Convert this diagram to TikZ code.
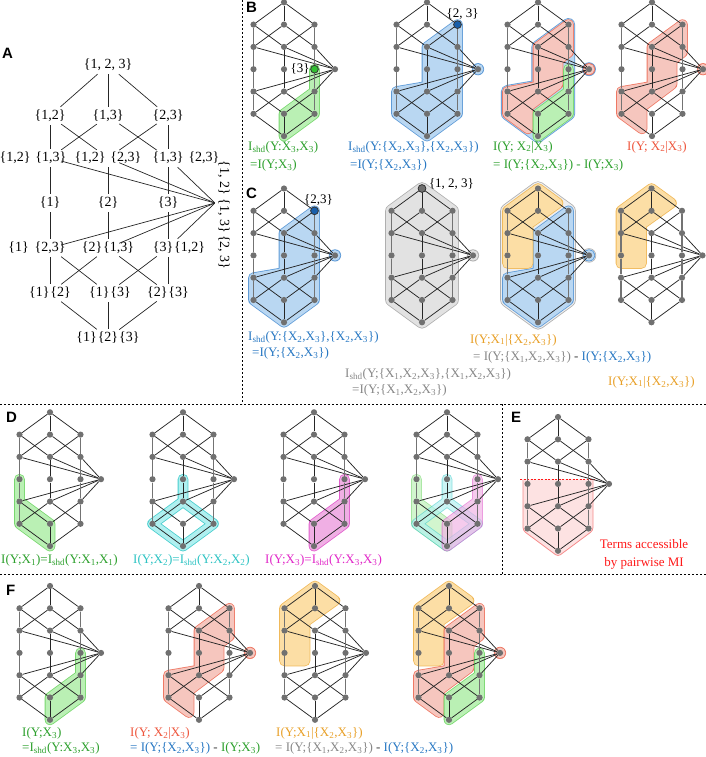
\documentclass[tikz,border=0pt]{standalone}
\usepackage{fontspec}
\setmainfont{Liberation Serif}
\newfontfamily\panelfont{Liberation Sans}
\usetikzlibrary{positioning}

% colours
\definecolor{dotgray}{RGB}{112,112,112}
\definecolor{gfill}{RGB}{186,240,180}
\definecolor{gline}{RGB}{120,215,110}
\definecolor{gtext}{RGB}{45,160,45}
\definecolor{gdot}{RGB}{50,190,50}
\definecolor{bfill}{RGB}{185,215,242}
\definecolor{bline}{RGB}{95,155,215}
\definecolor{btext}{RGB}{40,120,195}
\definecolor{bdot}{RGB}{25,95,170}
\definecolor{rfill}{RGB}{246,198,190}
\definecolor{rline}{RGB}{238,120,100}
\definecolor{rtext}{RGB}{238,85,60}
\definecolor{ofill}{RGB}{252,222,165}
\definecolor{oline}{RGB}{240,185,90}
\definecolor{otext}{RGB}{232,160,40}
\definecolor{kfill}{RGB}{226,226,226}
\definecolor{kline}{RGB}{175,175,175}
\definecolor{ktext}{RGB}{135,135,135}
\definecolor{cfill}{RGB}{175,240,240}
\definecolor{cline}{RGB}{70,205,205}
\definecolor{ctext}{RGB}{45,195,195}
\definecolor{mfill}{RGB}{240,175,228}
\definecolor{mline}{RGB}{225,95,205}
\definecolor{mtext}{RGB}{225,40,200}
\definecolor{efill}{RGB}{253,226,226}
\definecolor{eline}{RGB}{245,140,140}
\definecolor{etext}{RGB}{255,25,25}

\tikzset{
  latdot/.style={circle, fill=dotgray, inner sep=0pt, minimum size=6.2pt},
  hdot/.style={circle, draw=black!80, line width=0.8pt, inner sep=0pt, minimum size=7.8pt},
  latedge/.style={draw=black!85, line width=0.75pt},
  latvert/.style={draw=black!55, line width=1.4pt},
  aline/.style={draw=black!85, line width=0.7pt},
  anode/.style={inner sep=0pt, minimum width=22pt, minimum height=18pt},
  alab/.style={inner sep=0pt, font=\fontsize{14}{16}\selectfont},
  lbl/.style={anchor=west, inner sep=0pt, font=\fontsize{13}{15}\selectfont},
  hlab/.style={inner sep=0.5pt, font=\fontsize{13}{15}\selectfont},
  panel/.style={anchor=west, inner sep=0pt, font=\panelfont\bfseries\fontsize{15}{17}\selectfont},
  divider/.style={draw=black, line width=1pt, dash pattern=on 2pt off 2pt}
}

% text helpers
\newcommand{\X}[1]{X\textsubscript{#1}}
\newcommand{\Ish}{I\textsubscript{shd}}
\newcommand{\mn}{\textcolor{black!75}{-}}

% regions, local coordinates of one lattice (top node at origin)
\def\rgnOne{(-30.5,66.9) -- (-30.5,111.5) -- (0,133.8) -- (0,111.5) -- (-30.5,89.2) -- cycle}
\def\rgnThree{(30.5,66.9) -- (30.5,111.5) -- (0,133.8) -- (0,111.5) -- (30.5,89.2) -- cycle}
\def\rgnTwo{(0,66.9) -- (0,89.2) -- (-30.5,111.5) -- (0,133.8) -- (30.5,111.5) -- (0,89.2)}
\def\rgnBlue{(30.5,22.3) -- (30.5,111.5) -- (0,133.8) -- (-30.5,111.5) -- (-30.5,89.2) -- (0,84) -- (0,44.6) -- cycle}
\def\rgnRed{(30.5,22.3) -- (30.5,50) -- (20,58) -- (20,82) -- (-10,104.6) -- (-10,126.5) -- (-30.5,111.5) -- (-30.5,89.2) -- (0,84) -- (0,44.6) -- cycle}
\def\rgnOrange{(0,0) -- (20,14.6) -- (-10,36) -- (-10,75) -- (-30.5,75) -- (-30.5,22.3) -- cycle}
\def\rgnAll{(0,0) -- (30.5,22.3) -- (30.5,111.5) -- (0,133.8) -- (-30.5,111.5) -- (-30.5,22.3) -- cycle}

\newcommand{\blob}[4][9]{%
  \path[fill=#2, draw=#3, line width=#1pt+1.6pt, line join=round, line cap=round] #4;
  \path[fill=#2, draw=#2, line width=#1pt, line join=round, line cap=round] #4;}
\newcommand{\ring}[3]{%
  \path[draw=#2, line width=10.6pt, line join=round, line cap=round] #3;
  \path[draw=#1, line width=9pt, line join=round, line cap=round] #3;}
\newcommand{\pblob}[2]{%
  \fill[#2] (51,66.9) circle (6.1pt);
  \fill[#1] (51,66.9) circle (5.3pt);}

% one small lattice: prefix, x and y of its top node
\newcommand{\lattice}[3]{%
  \begin{scope}[shift={(#2,#3)}]
    \node[latdot] (#1t) at (0,0) {};
    \foreach \cl/\xx in {l/-30.5,m/0,r/30.5}{
      \foreach \k in {1,...,5}{
        \node[latdot] (#1\cl\k) at (\xx,{22.3*\k}) {};
      }
    }
    \node[latdot] (#1p) at (51,66.9) {};
    \node[latdot] (#1b) at (0,133.8) {};
  \end{scope}
  \foreach \u/\v in {t/l1,t/m1,t/r1,l1/m2,m1/l2,m1/r2,r1/m2,l2/p,m2/p,r2/p,m2/m3,m3/m4,p/l4,p/m4,p/r4,l4/m5,m4/l5,m4/r5,r4/m5,l5/b,m5/b,r5/b}
    \draw[latedge] (#1\u) -- (#1\v);
  \foreach \u/\v in {l1/l2,l2/l3,l3/l4,l4/l5,r1/r2,r2/r3,r3/r4,r4/r5}
    \draw[latvert] (#1\u) -- (#1\v);
}

\begin{document}
\begin{tikzpicture}[x=1pt, y=-1pt]
\useasboundingbox (0,0) rectangle (706,757);

% Dividers
\draw[divider] (242,0) -- (242,404);
\draw[divider] (0,404) -- (706,404);
\draw[divider] (0,574) -- (706,574);
\draw[divider] (502,404) -- (502,574);

% Panel letters
\node[panel] (pA) at (2,53) {A};
\node[panel] (pB) at (246,7) {B};
\node[panel] (pC) at (246,193) {C};
\node[panel] (pD) at (6,417) {D};
\node[panel] (pE) at (511,417) {E};
\node[panel] (pF) at (6,590) {F};

% ---------- A: the full lattice
\node[anode, label={[alab]center:{\{1, 2, 3\}}}] (a-t) at (108,65) {};
\node[anode, label={[alab]center:{\{1,2\}}}] (a-l1) at (50,116) {};
\node[anode, label={[alab]center:{\{1,3\}}}] (a-m1) at (108,116) {};
\node[anode, label={[alab]center:{\{2,3\}}}] (a-r1) at (168,116) {};
\node[anode, label={[alab,xshift=-17pt]center:{\{1,2\}\hspace{5pt}\{1,3\}}}] (a-l2) at (50,158) {};
\node[anode, label={[alab]center:{\{1,2\}\hspace{5pt}\{2,3\}}}] (a-m2) at (108,158) {};
\node[anode, label={[alab,xshift=18pt]center:{\{1,3\}\hspace{5pt}\{2,3\}}}] (a-r2) at (168,158) {};
\node[anode, label={[alab]center:{\{1\}}}] (a-l3) at (50,203) {};
\node[anode, label={[alab]center:{\{2\}}}] (a-m3) at (108,203) {};
\node[anode, label={[alab]center:{\{3\}}}] (a-r3) at (168,203) {};
\node[inner sep=0pt, minimum size=0pt] (a-p) at (215,203) {};
\node[alab, rotate=-90] (a-pl) at (224,215) {\{1, 2\}\hspace{4pt}\{1, 3\}\hspace{2pt}\{2, 3\}};
\node[anode, label={[alab,xshift=-13pt]center:{\{1\}\hspace{6pt}\{2,3\}}}] (a-l4) at (50,248) {};
\node[anode, label={[alab]center:{\{2\}\kern1pt\{1,3\}}}] (a-m4) at (108,248) {};
\node[anode, label={[alab,xshift=11pt]center:{\{3\}\kern1pt\{1,2\}}}] (a-r4) at (168,248) {};
\node[anode, label={[alab]center:{\{1\}\kern1pt\{2\}}}] (a-l5) at (50,293) {};
\node[anode, label={[alab,xshift=2pt]center:{\{1\}\kern1pt\{3\}}}] (a-m5) at (108,293) {};
\node[anode, label={[alab]center:{\{2\}\kern1pt\{3\}}}] (a-r5) at (168,293) {};
\node[anode, label={[alab]center:{\{1\}\kern1pt\{2\}\kern1pt\{3\}}}] (a-b) at (108,338) {};

\foreach \u/\v in {t/l1,t/m1,t/r1,l1/l2,l1/m2,m1/l2,m1/r2,r1/m2,r1/r2,l2/l3,m2/m3,r2/r3,l3/l4,m3/m4,r3/r4,l4/l5,l4/m5,m4/l5,m4/r5,r4/m5,r4/r5,l5/b,m5/b,r5/b}
  \draw[aline] (a-\u) -- (a-\v);
\foreach \u in {l2,m2,r2,l4,m4,r4}
  \draw[aline] (a-\u) -- (a-p);

% ---------- B
\begin{scope}[shift={(284,2.3)}]
  \blob{gfill}{gline}{\rgnThree}
\end{scope}
\lattice{b1}{284}{2.3}
\node[hdot, fill=gdot] (b1h) at (b1r3) {};
\node[hlab, left=0pt of b1h] (b1hl) {\{3\}};

\begin{scope}[shift={(427,2.3)}]
  \blob{bfill}{bline}{\rgnBlue}
  \pblob{bfill}{bline}
\end{scope}
\lattice{b2}{427}{2.3}
\node[hdot, fill=bdot] (b2h) at (b2r1) {};
\node[hlab, above=0pt of b2h, xshift=5pt] (b2hl) {\{2, 3\}};

\begin{scope}[shift={(538,2.3)}]
  \blob[11.5]{bfill}{bline}{\rgnBlue}
  \fill[bline] (51,66.9) circle (6.9pt);
  \blob{rfill}{rline}{\rgnRed}
  \blob{gfill}{gline}{\rgnThree}
  \pblob{rfill}{rline}
\end{scope}
\lattice{b3}{538}{2.3}

\begin{scope}[shift={(652,2.3)}]
  \blob{rfill}{rline}{\rgnRed}
  \pblob{rfill}{rline}
\end{scope}
\lattice{b4}{652}{2.3}

\node[lbl, text=gtext] (lb1a) at (248,147) {\Ish(Y:\X3,\X3)};
\node[lbl, text=gtext] (lb1b) at (250,165) {=I(Y;\X3)};
\node[lbl, text=btext] (lb2a) at (348,147) {\Ish(Y:\{\X2,\X3\},\{\X2,\X3\})};
\node[lbl, text=btext] (lb2b) at (350,165) {=I(Y;\{\X2,\X3\})};
\node[lbl, text=gtext] (lb3a) at (493,147) {I(Y; \X2|\X3)};
\node[lbl, text=gtext] (lb3b) at (493,165) {= I(Y;\{\X2,\X3\}) - I(Y;\X3)};
\node[lbl, text=rtext] (lb4a) at (627,147) {I(Y; \X2|\X3)};

% ---------- C
\begin{scope}[shift={(284,188.5)}]
  \blob{bfill}{bline}{\rgnBlue}
  \pblob{bfill}{bline}
\end{scope}
\lattice{c1}{284}{188.5}
\node[hdot, fill=bdot] (c1h) at (c1r1) {};
\node[hlab, above=0pt of c1h, xshift=4pt] (c1hl) {\{2,3\}};

\begin{scope}[shift={(422,188.5)}]
  \blob[11]{kfill}{kline}{\rgnAll}
  \pblob{kfill}{kline}
\end{scope}
\lattice{c2}{422}{188.5}
\node[hdot, fill=dotgray] (c2h) at (c2t) {};
\node[hlab, right=2pt of c2h, yshift=5pt] (c2hl) {\{1, 2, 3\}};

\begin{scope}[shift={(538,188.5)}]
  \blob[13]{kfill!60}{kline}{\rgnAll}
  \fill[kline] (51,66.9) circle (7.2pt);
  \fill[white] (51,66.9) circle (6.4pt);
  \blob{bfill}{bline}{\rgnBlue}
  \blob{ofill}{oline}{\rgnOrange}
  \pblob{bfill}{bline}
\end{scope}
\lattice{c3}{538}{188.5}

\begin{scope}[shift={(651.5,188.5)}]
  \blob{ofill}{oline}{\rgnOrange}
\end{scope}
\lattice{c4}{651.5}{188.5}

\node[lbl, text=btext] (lc1a) at (248,337) {\Ish(Y:\{\X2,\X3\},\{\X2,\X3\})};
\node[lbl, text=btext] (lc1b) at (252,353) {=I(Y;\{\X2,\X3\})};
\node[lbl, text=ktext] (lc2a) at (345,374) {\Ish(Y;\{\X1,\X2,\X3\},\{\X1,\X2,\X3\})};
\node[lbl, text=ktext] (lc2b) at (352,390) {=I(Y;\{\X1,\X2,\X3\})};
\node[lbl, text=otext] (lc3a) at (470,340) {I(Y;\X1|\{\X2,\X3\})};
\node[lbl] (lc3b) at (473,357) {\textcolor{ktext}{= I(Y;\{\X1,\X2,\X3\})} \mn{} \textcolor{btext}{I(Y;\{\X2,\X3\})}};
\node[lbl, text=otext] (lc4a) at (608,382) {I(Y;\X1|\{\X2,\X3\})};

% ---------- D
\begin{scope}[shift={(50,412.3)}]
  \blob{gfill}{gline}{\rgnOne}
\end{scope}
\lattice{d1}{50}{412.3}

\begin{scope}[shift={(183,412.3)}]
  \ring{cfill}{cline}{\rgnTwo}
\end{scope}
\lattice{d2}{183}{412.3}

\begin{scope}[shift={(314,412.3)}]
  \blob{mfill}{mline}{\rgnThree}
\end{scope}
\lattice{d3}{314}{412.3}

\begin{scope}[shift={(447,412.3)}]
  \begin{scope}[transparency group, opacity=0.65]
    \blob{gfill}{gline}{\rgnOne}
  \end{scope}
  \begin{scope}[transparency group, opacity=0.65]
    \ring{cfill}{cline}{\rgnTwo}
  \end{scope}
  \begin{scope}[transparency group, opacity=0.65]
    \blob{mfill}{mline}{\rgnThree}
  \end{scope}
\end{scope}
\lattice{d4}{447}{412.3}

\node[lbl, text=gtext] (ld1) at (1,560) {I(Y;\X1)=\Ish(Y:\X1,\X1)};
\node[lbl, text=ctext] (ld2) at (133,560) {I(Y;\X2)=\Ish(Y:\X2,\X2)};
\node[lbl, text=mtext] (ld3) at (265,560) {I(Y;\X3)=\Ish(Y:\X3,\X3)};

% ---------- E
\begin{scope}[shift={(558,417)}]
  \fill[efill, rounded corners=3pt] (-35,62.3) -- (35,62.3) -- (35,113.5) -- (0,139.5) -- (-35,113.5) -- cycle;
  \draw[eline, line width=0.8pt, rounded corners=3pt] (-35,62.3) -- (-35,113.5) -- (0,139.5) -- (35,113.5) -- (35,62.3);
  \draw[etext, line width=1pt, dash pattern=on 2pt off 1.5pt] (-38,62.3) -- (37,62.3);
\end{scope}
\lattice{e1}{558}{417}
\node[hlab, text=etext] (le1) at (644,544) {Terms accessible};
\node[hlab, text=etext] (le2) at (644,563) {by pairwise MI};

% ---------- F
\begin{scope}[shift={(50,586)}]
  \blob{gfill}{gline}{\rgnThree}
\end{scope}
\lattice{f1}{50}{586}

\begin{scope}[shift={(199,586)}]
  \blob{rfill}{rline}{\rgnRed}
  \pblob{rfill}{rline}
\end{scope}
\lattice{f2}{199}{586}

\begin{scope}[shift={(315,586)}]
  \blob{ofill}{oline}{\rgnOrange}
\end{scope}
\lattice{f3}{315}{586}

\begin{scope}[shift={(449,586)}]
  \blob{ofill}{oline}{\rgnOrange}
  \blob{rfill}{rline}{\rgnRed}
  \blob{gfill}{gline}{\rgnThree}
  \pblob{rfill}{rline}
\end{scope}
\lattice{f4}{449}{586}

\node[lbl, text=gtext] (lf1a) at (22,733) {I(Y;\X3)};
\node[lbl, text=gtext] (lf1b) at (22,748) {=\Ish(Y:\X3,\X3)};
\node[lbl, text=rtext] (lf2a) at (130,733) {I(Y; \X2|\X3)};
\node[lbl] (lf2b) at (130,748) {\textcolor{btext}{= I(Y;\{\X2,\X3\})} \mn{} \textcolor{gtext}{I(Y;\X3)}};
\node[lbl, text=otext] (lf3a) at (276,733) {I(Y;\X1|\{\X2,\X3\})};
\node[lbl] (lf3b) at (275,748) {\textcolor{ktext}{= I(Y;\{\X1,\X2,\X3\})} \mn{} \textcolor{btext}{I(Y;\{\X2,\X3\})}};

\end{tikzpicture}
\end{document}
